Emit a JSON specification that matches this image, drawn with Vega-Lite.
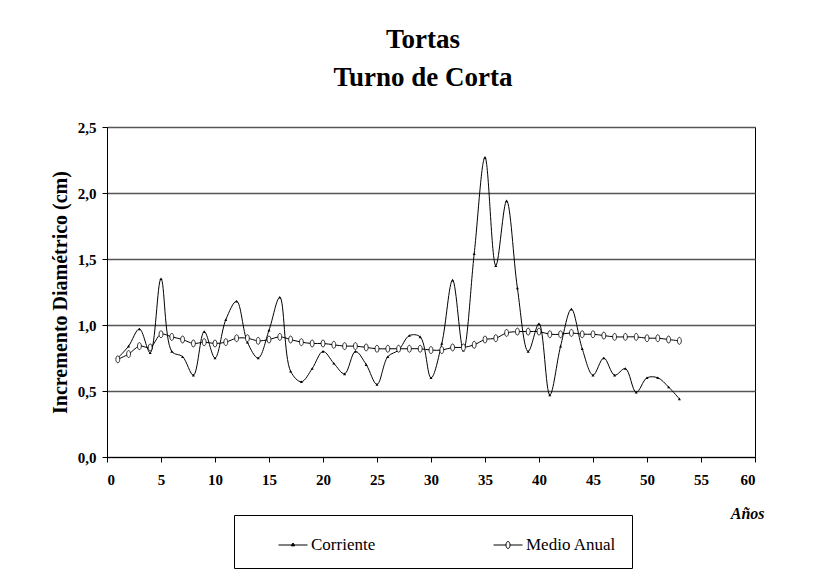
{
  "$schema": "https://vega.github.io/schema/vega-lite/v6.json",
  "width": 648,
  "height": 330,
  "autosize": {"type": "none"},
  "padding": {"left": 107, "top": 127, "right": 71, "bottom": 122},
  "background": "white",
  "config": {"font": "Liberation Serif, Times New Roman, serif", "view": {"stroke": "black", "strokeWidth": 1}},
  "title": {"text": ["Tortas", "Turno de Corta"], "font": "Liberation Serif, Times New Roman, serif", "fontSize": 27, "fontWeight": "bold", "lineHeight": 38, "anchor": "middle", "offset": 28, "dx": -8, "color": "black"},
  "data": {"values": [
    {"year": 1, "series": "Corriente", "value": 0.75},
    {"year": 2, "series": "Corriente", "value": 0.84},
    {"year": 3, "series": "Corriente", "value": 0.97},
    {"year": 4, "series": "Corriente", "value": 0.79},
    {"year": 5, "series": "Corriente", "value": 1.35},
    {"year": 6, "series": "Corriente", "value": 0.80},
    {"year": 7, "series": "Corriente", "value": 0.76},
    {"year": 8, "series": "Corriente", "value": 0.62},
    {"year": 9, "series": "Corriente", "value": 0.95},
    {"year": 10, "series": "Corriente", "value": 0.75},
    {"year": 11, "series": "Corriente", "value": 1.04},
    {"year": 12, "series": "Corriente", "value": 1.18},
    {"year": 13, "series": "Corriente", "value": 0.87},
    {"year": 14, "series": "Corriente", "value": 0.75},
    {"year": 15, "series": "Corriente", "value": 0.96},
    {"year": 16, "series": "Corriente", "value": 1.21},
    {"year": 17, "series": "Corriente", "value": 0.65},
    {"year": 18, "series": "Corriente", "value": 0.57},
    {"year": 19, "series": "Corriente", "value": 0.67},
    {"year": 20, "series": "Corriente", "value": 0.80},
    {"year": 21, "series": "Corriente", "value": 0.71},
    {"year": 22, "series": "Corriente", "value": 0.63},
    {"year": 23, "series": "Corriente", "value": 0.80},
    {"year": 24, "series": "Corriente", "value": 0.70},
    {"year": 25, "series": "Corriente", "value": 0.55},
    {"year": 26, "series": "Corriente", "value": 0.76},
    {"year": 27, "series": "Corriente", "value": 0.81},
    {"year": 28, "series": "Corriente", "value": 0.92},
    {"year": 29, "series": "Corriente", "value": 0.91},
    {"year": 30, "series": "Corriente", "value": 0.60},
    {"year": 31, "series": "Corriente", "value": 0.86},
    {"year": 32, "series": "Corriente", "value": 1.34},
    {"year": 33, "series": "Corriente", "value": 0.81},
    {"year": 34, "series": "Corriente", "value": 1.54},
    {"year": 35, "series": "Corriente", "value": 2.27},
    {"year": 36, "series": "Corriente", "value": 1.45},
    {"year": 37, "series": "Corriente", "value": 1.94},
    {"year": 38, "series": "Corriente", "value": 1.28},
    {"year": 39, "series": "Corriente", "value": 0.80},
    {"year": 40, "series": "Corriente", "value": 1.01},
    {"year": 41, "series": "Corriente", "value": 0.47},
    {"year": 42, "series": "Corriente", "value": 0.84},
    {"year": 43, "series": "Corriente", "value": 1.12},
    {"year": 44, "series": "Corriente", "value": 0.82},
    {"year": 45, "series": "Corriente", "value": 0.62},
    {"year": 46, "series": "Corriente", "value": 0.75},
    {"year": 47, "series": "Corriente", "value": 0.62},
    {"year": 48, "series": "Corriente", "value": 0.67},
    {"year": 49, "series": "Corriente", "value": 0.49},
    {"year": 50, "series": "Corriente", "value": 0.60},
    {"year": 51, "series": "Corriente", "value": 0.60},
    {"year": 52, "series": "Corriente", "value": 0.53},
    {"year": 53, "series": "Corriente", "value": 0.44},
    {"year": 1, "series": "Medio Anual", "value": 0.74},
    {"year": 2, "series": "Medio Anual", "value": 0.78},
    {"year": 3, "series": "Medio Anual", "value": 0.84},
    {"year": 4, "series": "Medio Anual", "value": 0.83},
    {"year": 5, "series": "Medio Anual", "value": 0.93},
    {"year": 6, "series": "Medio Anual", "value": 0.91},
    {"year": 7, "series": "Medio Anual", "value": 0.89},
    {"year": 8, "series": "Medio Anual", "value": 0.86},
    {"year": 9, "series": "Medio Anual", "value": 0.87},
    {"year": 10, "series": "Medio Anual", "value": 0.86},
    {"year": 11, "series": "Medio Anual", "value": 0.87},
    {"year": 12, "series": "Medio Anual", "value": 0.90},
    {"year": 13, "series": "Medio Anual", "value": 0.90},
    {"year": 14, "series": "Medio Anual", "value": 0.88},
    {"year": 15, "series": "Medio Anual", "value": 0.89},
    {"year": 16, "series": "Medio Anual", "value": 0.91},
    {"year": 17, "series": "Medio Anual", "value": 0.89},
    {"year": 18, "series": "Medio Anual", "value": 0.87},
    {"year": 19, "series": "Medio Anual", "value": 0.86},
    {"year": 20, "series": "Medio Anual", "value": 0.86},
    {"year": 21, "series": "Medio Anual", "value": 0.85},
    {"year": 22, "series": "Medio Anual", "value": 0.84},
    {"year": 23, "series": "Medio Anual", "value": 0.84},
    {"year": 24, "series": "Medio Anual", "value": 0.83},
    {"year": 25, "series": "Medio Anual", "value": 0.82},
    {"year": 26, "series": "Medio Anual", "value": 0.82},
    {"year": 27, "series": "Medio Anual", "value": 0.82},
    {"year": 28, "series": "Medio Anual", "value": 0.82},
    {"year": 29, "series": "Medio Anual", "value": 0.82},
    {"year": 30, "series": "Medio Anual", "value": 0.81},
    {"year": 31, "series": "Medio Anual", "value": 0.81},
    {"year": 32, "series": "Medio Anual", "value": 0.83},
    {"year": 33, "series": "Medio Anual", "value": 0.83},
    {"year": 34, "series": "Medio Anual", "value": 0.85},
    {"year": 35, "series": "Medio Anual", "value": 0.89},
    {"year": 36, "series": "Medio Anual", "value": 0.90},
    {"year": 37, "series": "Medio Anual", "value": 0.94},
    {"year": 38, "series": "Medio Anual", "value": 0.95},
    {"year": 39, "series": "Medio Anual", "value": 0.95},
    {"year": 40, "series": "Medio Anual", "value": 0.95},
    {"year": 41, "series": "Medio Anual", "value": 0.93},
    {"year": 42, "series": "Medio Anual", "value": 0.93},
    {"year": 43, "series": "Medio Anual", "value": 0.94},
    {"year": 44, "series": "Medio Anual", "value": 0.93},
    {"year": 45, "series": "Medio Anual", "value": 0.93},
    {"year": 46, "series": "Medio Anual", "value": 0.92},
    {"year": 47, "series": "Medio Anual", "value": 0.91},
    {"year": 48, "series": "Medio Anual", "value": 0.91},
    {"year": 49, "series": "Medio Anual", "value": 0.91},
    {"year": 50, "series": "Medio Anual", "value": 0.90},
    {"year": 51, "series": "Medio Anual", "value": 0.90},
    {"year": 52, "series": "Medio Anual", "value": 0.89},
    {"year": 53, "series": "Medio Anual", "value": 0.88}
  ]},
  "encoding": {
    "x": {"field": "year", "type": "quantitative",
      "scale": {"domain": [0, 60], "nice": false},
      "axis": {"values": [0, 5, 10, 15, 20, 25, 30, 35, 40, 45, 50, 55, 60], "grid": false,
        "labelFont": "Liberation Serif, Times New Roman, serif", "labelFontSize": 15, "labelFontWeight": "bold", "labelColor": "black", "labelPadding": 10,
        "tickColor": "black", "tickSize": 5, "domainColor": "black",
        "title": "Años", "titleFont": "Liberation Serif, Times New Roman, serif", "titleFontSize": 16, "titleFontWeight": "bold", "titleFontStyle": "italic", "titleColor": "black",
        "titleAnchor": "end", "titleAlign": "right", "titleX": 657, "titleY": 61, "titleBaseline": "alphabetic"}},
    "y": {"field": "value", "type": "quantitative",
      "scale": {"domain": [0, 2.5], "nice": false},
      "axis": {"values": [0, 0.5, 1, 1.5, 2, 2.5], "labelExpr": "replace(format(datum.value, '.1f'), '.', ',')",
        "grid": true, "gridColor": "#555555", "gridWidth": 1.3,
        "labelFont": "Liberation Serif, Times New Roman, serif", "labelFontSize": 15, "labelFontWeight": "bold", "labelColor": "black", "labelPadding": 6,
        "tickColor": "black", "tickSize": 5, "domainColor": "black",
        "title": "Incremento Diamétrico (cm)", "titleFont": "Liberation Serif, Times New Roman, serif", "titleFontSize": 20, "titleFontWeight": "bold", "titleColor": "black", "titlePadding": 7}}
  },
  "layer": [
    {"mark": {"type": "line", "interpolate": "catmull-rom", "strokeWidth": 1},
     "encoding": {"color": {"field": "series", "type": "nominal",
       "scale": {"domain": ["Corriente", "Medio Anual"], "range": ["black", "black"]},
       "legend": {"orient": "none", "legendX": 127, "legendY": 388, "direction": "horizontal", "title": null,
         "strokeColor": "black", "padding": 15, "symbolSize": 841, "symbolStrokeWidth": 1, "symbolOffset": 29, "columnPadding": 88,
         "labelFont": "Liberation Serif, Times New Roman, serif", "labelFontSize": 17, "labelColor": "black", "labelOffset": 3,
         "encode": {"symbols": {"update": {
           "shape": {"signal": "datum.value === 'Corriente' ? 'M-1,0H1M-0.12,0.06L0,-0.14L0.12,0.06Z' : 'M-1,0H-0.14M0.14,0H1M0,-0.24A0.14,0.24 0 1,1 0,0.24A0.14,0.24 0 1,1 0,-0.24Z'"},
           "stroke": {"value": "black"},
           "fill": {"signal": "datum.value === 'Corriente' ? 'black' : 'white'"}}}}}}}},
    {"transform": [{"filter": "datum.series === 'Corriente'"}],
     "mark": {"type": "point", "shape": "triangle-up", "filled": true, "color": "black", "size": 9, "opacity": 1}},
    {"transform": [{"filter": "datum.series === 'Medio Anual'"}],
     "mark": {"type": "point", "shape": "M0,-1A0.55,1 0 1,1 0,1A0.55,1 0 1,1 0,-1Z", "filled": true, "fill": "white", "stroke": "black", "strokeWidth": 0.8, "size": 49, "opacity": 1}}
  ]
}
